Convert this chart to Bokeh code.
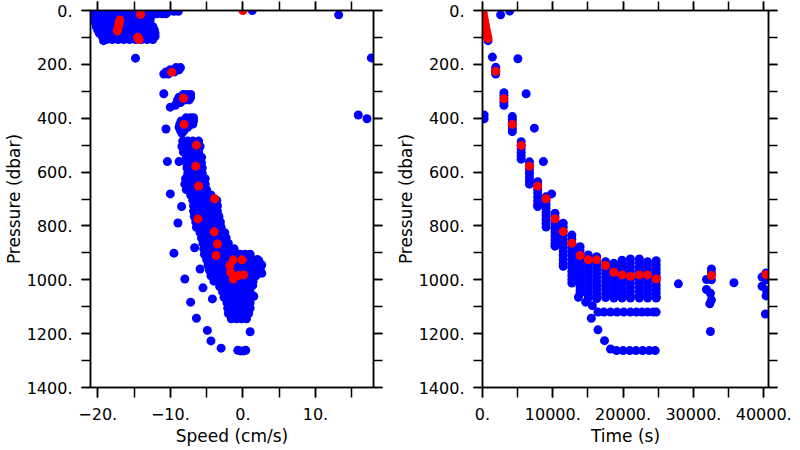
from bokeh.plotting import figure
from bokeh.models import Range1d, LinearAxis, SingleIntervalTicker, CustomJSTickFormatter
from bokeh.layouts import row
from bokeh.embed import file_html
from bokeh.resources import INLINE

# ---------------- data ----------------
# Left panel: speed (cm/s) vs pressure (dbar); blue rows = (pressure, [speeds])
speed_blue_rows = [
    (3, [-20.6, -19.8, -19.0, -18.2, -17.4, -16.6, -15.8, -15.0, -14.2, -13.4, -12.6, -11.8, -11.0, -10.2, -9.5, -8.9]),
    (12, [-20.6, -19.8, -19.0, -18.2, -17.4, -16.6, -15.8, -15.0, -14.2, -13.4, -12.6, -11.8, -11.1, -10.6]),
    (24, [-20.6, -19.8, -19.0, -18.2, -17.4, -16.6, -15.8, -15.0, -14.2, -13.4, -12.7]),
    (36, [-20.4, -19.6, -18.8, -18.0, -17.2, -16.4, -15.6, -14.8, -14.0, -13.3, -12.8]),
    (48, [-20.3, -19.5, -18.7, -17.9, -17.1, -16.3, -15.5, -14.7, -13.9, -13.2, -12.8]),
    (60, [-20.2, -19.4, -18.6, -17.8, -17.0, -16.2, -15.4, -14.6, -13.8, -13.0, -12.4]),
    (72, [-20.0, -19.2, -18.4, -17.6, -16.8, -16.0, -15.2, -14.4, -13.6, -12.8, -12.2]),
    (84, [-19.8, -19.0, -18.2, -17.4, -16.6, -15.8, -15.0, -14.2, -13.4, -12.6, -12.1]),
    (96, [-19.4, -18.6, -17.8, -17.0, -16.2, -15.4, -14.6, -13.8, -13.0, -12.1]),
    (108, [-18.8, -18.0, -17.2, -16.4, -15.6, -14.8, -14.0, -13.2, -12.4]),
    (212, [-9.2, -8.6]),
    (220, [-10.0, -9.4, -8.8]),
    (228, [-10.6, -10.0, -9.4]),
    (236, [-10.9, -10.3]),
    (312, [-8.2, -7.7, -7.2]),
    (322, [-8.8, -8.2, -7.7, -7.2]),
    (332, [-9.0, -8.5, -7.9, -7.4]),
    (342, [-9.1, -8.6]),
    (352, [-9.3]),
    (398, [-7.8, -7.2, -6.8]),
    (410, [-8.5, -7.9, -7.3, -6.8]),
    (422, [-8.7, -8.1, -7.5, -6.9]),
    (434, [-8.8, -8.2, -7.6]),
    (446, [-8.6, -8.1]),
    (456, [-8.4]),
    (485, [-8.3, -7.6, -6.9, -6.1]),
    (505, [-8.4, -7.7, -7.0, -6.3, -5.9]),
    (525, [-8.2, -7.5, -6.8, -6.1]),
    (545, [-7.8, -7.1, -6.4, -5.7]),
    (565, [-7.8, -7.1, -6.4, -5.7]),
    (585, [-7.7, -7.0, -6.3, -5.6]),
    (605, [-7.6, -6.9, -6.2, -5.6]),
    (625, [-7.9, -7.2, -6.5, -5.8, -5.2]),
    (645, [-8.0, -7.3, -6.6, -5.9, -5.2]),
    (665, [-7.8, -7.1, -6.4, -5.7, -5.0]),
    (685, [-7.2, -6.5, -5.8, -5.1, -4.4]),
    (705, [-6.9, -6.2, -5.5, -4.8, -4.1, -3.6]),
    (725, [-6.8, -6.1, -5.4, -4.7, -4.0, -3.5]),
    (745, [-6.8, -6.1, -5.4, -4.7, -4.0, -3.5]),
    (765, [-6.7, -6.0, -5.3, -4.6, -3.9, -3.3]),
    (785, [-6.5, -5.8, -5.1, -4.4, -3.7, -3.1]),
    (805, [-6.4, -5.7, -5.0, -4.3, -3.6, -3.0]),
    (825, [-5.9, -5.2, -4.5, -3.8, -3.1, -2.5]),
    (845, [-5.7, -5.0, -4.3, -3.6, -2.9, -2.3]),
    (865, [-5.5, -4.8, -4.1, -3.4, -2.7, -2.0]),
    (885, [-5.4, -4.7, -4.0, -3.3, -2.6, -1.9, -1.2]),
    (905, [-5.3, -4.6, -3.9, -3.2, -2.5, -1.8, -1.1, -0.4, 0.3, 1.0]),
    (925, [-5.0, -4.3, -3.6, -2.9, -2.2, -1.5, -0.8, -0.1, 0.6, 1.3, 2.0]),
    (945, [-4.8, -4.1, -3.4, -2.7, -2.0, -1.3, -0.6, 0.1, 0.8, 1.5, 2.2, 2.6]),
    (965, [-4.6, -3.9, -3.2, -2.5, -1.8, -1.1, -0.4, 0.3, 1.0, 1.7, 2.4]),
    (985, [-4.4, -3.7, -3.0, -2.3, -1.6, -0.9, -0.2, 0.5, 1.2, 1.8]),
    (1005, [-4.0, -3.3, -2.6, -1.9, -1.2, -0.5, 0.2, 0.9, 1.4]),
    (1025, [-3.2, -2.5, -1.8, -1.1, -0.4, 0.3, 1.0]),
    (1045, [-2.8, -2.1, -1.4, -0.7, 0.0, 0.7, 1.0]),
    (1065, [-2.6, -1.9, -1.2, -0.5, 0.2, 0.9]),
    (1085, [-2.2, -1.5, -0.8, -0.1, 0.6, 1.0]),
    (1105, [-2.1, -1.4, -0.7, 0.0, 0.7, 1.0]),
    (1125, [-2.0, -1.3, -0.6, 0.1, 0.8]),
    (1145, [-1.6, -0.9, -0.2, 0.5]),
]
speed_blue_extra = [1.3, 13.2, 17.7, 15.9, 17.1, -14.8, -10.9, -10.0, -10.6, -10.4, -8.8, -10.0,
                    -8.45, -8.95, -9.5, -6.65, -5.9, -8.0, -7.2, -6.4, -4.9, -4.4, -3.0, -0.7,
                    -0.3, 0.1, 0.4, 1.0, -5.5, -4.2, 1.5, 2.2, 2.6, -19.2, 1.36]
pres_blue_extra_l = [0, 16, 176, 388, 402, 177, 309, 359, 440, 561, 561, 681,
                     728, 789, 901, 881, 960, 997, 1083, 1143, 1188, 1227, 1254, 1262,
                     1264, 1264, 1262, 1193, 1030, 1071, 1061, 929, 976, 112, 1021]
speed_red = [0.0, -14.1, -16.95, -17.05, -17.1, -17.2, -17.3, -14.5, -14.4, -14.3,
             -9.8, -8.2, -8.1, -6.4, -6.5, -6.1, -3.9, -6.2, -3.95, -3.5, -3.7,
             -1.33, -0.13, -1.8, -1.7, -1.33, 0.1, -0.6]
pres_red_l = [0, 15, 35, 45, 55, 66, 76, 99, 104, 108,
              229, 326, 423, 500, 578, 652, 699, 774, 822, 867, 910,
              926, 926, 947, 972, 997, 982, 984]

# Right panel: time (s) vs pressure (dbar); blue columns = (time, [pressures])
time_blue_cols = [
    (1880, [211, 220, 228, 236]),
    (3050, [305, 316, 328, 340, 352]),
    (4240, [394, 405, 416, 428, 440, 450]),
    (5500, [487, 500, 513, 526, 539, 552]),
    (6680, [562, 576, 590, 604, 618, 632, 645]),
    (7850, [636, 650, 664, 678, 692, 706, 720, 728]),
    (9040, [692, 706, 720, 734, 748, 762, 776, 790, 804]),
    (10310, [753, 767, 781, 795, 809, 823, 837, 851, 865, 875]),
    (11480, [790, 805, 820, 835, 850, 865, 880, 895, 910, 925, 940, 950]),
    (12710, [834, 849, 864, 879, 894, 909, 924, 939, 954, 969, 984, 999, 1012]),
    (13880, [877, 892, 907, 922, 937, 952, 967, 982, 997, 1012, 1027, 1040, 1050]),
    (15050, [908, 923, 938, 953, 968, 983, 998, 1013, 1028, 1043, 1058, 1067]),
    (16240, [914, 929, 944, 959, 974, 989, 1004, 1019, 1034, 1049, 1064, 1070]),
    (17510, [933, 948, 963, 978, 993, 1008, 1023, 1038, 1053, 1066]),
    (18680, [939, 954, 969, 984, 999, 1014, 1029, 1044, 1059, 1068]),
    (19850, [927, 942, 957, 972, 987, 1002, 1017, 1032, 1047, 1062, 1068]),
    (21040, [923, 938, 953, 968, 983, 998, 1013, 1028, 1043, 1058, 1068]),
    (22310, [923, 938, 953, 968, 983, 998, 1013, 1028, 1043, 1058, 1068]),
    (23480, [933, 948, 963, 978, 993, 1008, 1023, 1038, 1053, 1068]),
    (24710, [929, 944, 959, 974, 989, 1004, 1019, 1034, 1049, 1064, 1068]),
    (32560, [960, 975, 1000, 1075]),
    (40330, [975, 1000, 1060]),
]
time_blue_extra = [60, 200, 350, 500, 650, 790,
                   2580, 3860, 1410, 5030, 6210, 230, 230, 7380, 8660, 9830,
                   13640, 14680, 15620,
                   16420, 17270, 18210, 19150, 20090, 21040, 21890, 22680, 23480, 24290, 24710,
                   15480, 16420, 17360,
                   18210, 19060, 20000, 20940, 21830, 22780, 23720, 24570,
                   27860, 35770, 31860, 31860, 32420, 32330, 32420,
                   39760, 39760, 40400, 40240]
pres_blue_extra_r = [10, 35, 55, 78, 95, 112,
                     16, 2, 173, 179, 309, 388, 402, 437, 561, 681,
                     1065, 1083, 1096,
                     1120, 1120, 1120, 1120, 1120, 1120, 1120, 1120, 1120, 1120, 1120,
                     1143, 1186, 1226,
                     1257, 1263, 1263, 1263, 1263, 1263, 1263, 1263,
                     1015, 1011, 999, 1036, 1050, 1089, 1192,
                     990, 1024, 1040, 1127]
time_red = [0, 90, 180, 270, 360, 450, 540, 630, 720, 780,
            1880, 3050, 4240, 5500, 6680, 7850, 9040, 10310, 11480, 12710, 13880,
            15050, 16240, 17510, 18680, 19850, 21040, 22310, 23480, 24710, 32560, 40330]
pres_red_r = [0, 12, 24, 36, 48, 60, 72, 84, 96, 104,
              226, 328, 423, 501, 578, 652, 699, 774, 821, 864, 910,
              926, 926, 947, 972, 982, 987, 982, 982, 997, 984, 981]

# ---------------- build ----------------
def rows_to_xy(rows):
    xs, ys = [], []
    for p, vals in rows:
        for v in vals:
            xs.append(v)
            ys.append(p)
    return xs, ys

def cols_to_xy(cols):
    xs, ys = [], []
    for t, vals in cols:
        for v in vals:
            xs.append(t)
            ys.append(v)
    return xs, ys

FONT = "DejaVu Sans"
fmt = CustomJSTickFormatter(code="""
    const v = Math.round(tick);
    return (v < 0 ? '\u2212' + Math.abs(v) : String(v)) + '.';
""")
blank = CustomJSTickFormatter(code="return '';")

H = 448

def make_fig(width, xr, bl, br, xint, xlabel):
    p = figure(width=width, height=H, x_range=Range1d(*xr), y_range=Range1d(1400, 0),
               output_backend="svg", toolbar_location=None,
               min_border_left=bl, min_border_right=br, min_border_top=10,
               min_border_bottom=61, x_axis_location=None, y_axis_location=None)
    p.xgrid.visible = False
    p.ygrid.visible = False
    p.outline_line_color = "black"
    p.outline_line_width = 1.5
    p.background_fill_color = "white"
    p.border_fill_color = "white"

    def style(ax, tick_out, show_labels):
        ax.axis_line_color = "black"
        ax.axis_line_width = 1.5
        ax.major_tick_line_color = "black"
        ax.minor_tick_line_color = "black"
        ax.major_tick_line_width = 1.5
        ax.minor_tick_line_width = 1.5
        ax.major_tick_in = 0
        ax.minor_tick_in = 0
        ax.major_tick_out = tick_out
        ax.minor_tick_out = tick_out
        if show_labels:
            ax.formatter = fmt
            ax.major_label_text_font = FONT
            ax.major_label_text_font_size = "16px"
            ax.major_label_text_color = "black"
        else:
            ax.formatter = blank
            ax.major_label_text_font_size = "1px"
            ax.major_label_standoff = 0

    xb = LinearAxis(ticker=SingleIntervalTicker(interval=xint, num_minor_ticks=2),
                    axis_label=xlabel)
    style(xb, 10, True)
    xb.major_label_standoff = 10
    xb.axis_label_standoff = 3
    xb.axis_label_text_font = FONT
    xb.axis_label_text_font_size = "17px"
    xb.axis_label_text_font_style = "normal"
    xb.axis_label_text_color = "black"
    p.add_layout(xb, "below")

    xt = LinearAxis(ticker=SingleIntervalTicker(interval=xint, num_minor_ticks=2))
    style(xt, 9, False)
    p.add_layout(xt, "above")

    yl = LinearAxis(ticker=SingleIntervalTicker(interval=200, num_minor_ticks=2),
                    axis_label="Pressure (dbar)")
    style(yl, 9, True)
    yl.major_label_standoff = 9
    yl.axis_label_standoff = 0
    yl.axis_label_text_font = FONT
    yl.axis_label_text_font_size = "17px"
    yl.axis_label_text_font_style = "normal"
    yl.axis_label_text_color = "black"
    p.add_layout(yl, "left")

    yr = LinearAxis(ticker=SingleIntervalTicker(interval=200, num_minor_ticks=2))
    style(yr, 9, False)
    p.add_layout(yr, "right")
    return p

p1 = make_fig(392, (-21.0, 18.0), 85, 19, 10, "Speed (cm/s)")
bx, by = rows_to_xy(speed_blue_rows)
bx += speed_blue_extra
by += pres_blue_extra_l
p1.scatter(bx, by, size=9, fill_color="#0000ff", line_color=None)
p1.scatter(speed_red, pres_red_l, size=9, fill_color="#ff0000", line_color=None)

p2 = make_fig(400, (0, 40680), 88, 24, 10000, "Time (s)")
tx, ty = cols_to_xy(time_blue_cols)
tx += time_blue_extra
ty += pres_blue_extra_r
p2.scatter(tx, ty, size=9, fill_color="#0000ff", line_color=None)
p2.scatter(time_red, pres_red_r, size=9, fill_color="#ff0000", line_color=None)

layout = row(p1, p2)
open("out.html", "w").write(file_html(layout, INLINE))
